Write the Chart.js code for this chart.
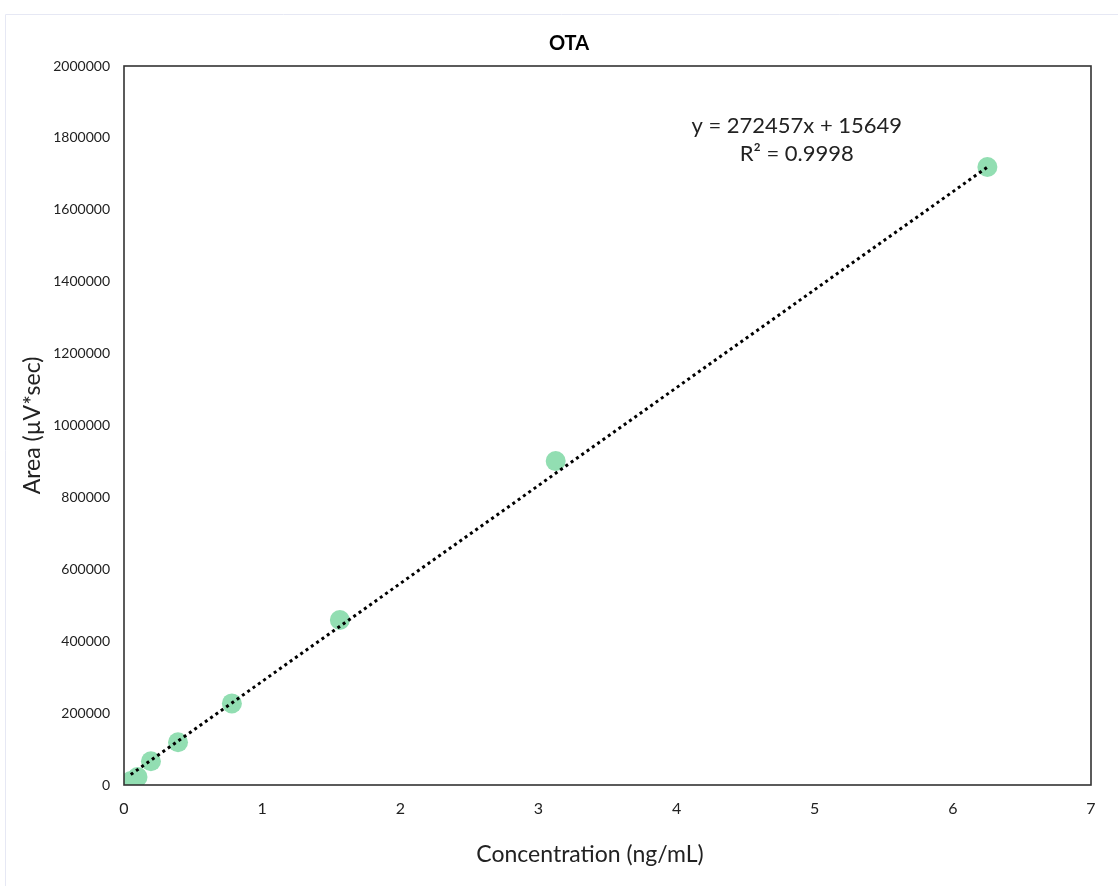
<!DOCTYPE html>
<html>
<head>
<meta charset="utf-8">
<style>
  html, body { margin: 0; padding: 0; background: #ffffff; }
  #wrap { position: relative; width: 1118px; height: 886px; }
</style>
<script src="https://cdn.jsdelivr.net/npm/chart.js@4.4.1/dist/chart.umd.min.js"></script>
</head>
<body>
<div id="wrap"><canvas id="chart" width="1118" height="886"></canvas></div>
<script>
// Calibration standards for OTA
const concentrations = [0.0488, 0.0977, 0.195, 0.391, 0.781, 1.5625, 3.125, 6.25];
const areas = [11000, 22000, 66000, 119000, 227000, 459000, 901000, 1719000];

// Linear fit reported for the calibration
const slope = 272457;
const intercept = 15649;
const rSquared = 0.9998;

const xTicks = [0, 1, 2, 3, 4, 5, 6, 7];
const yTicks = [0, 200000, 400000, 600000, 800000, 1000000, 1200000, 1400000, 1600000, 1800000, 2000000];

const FONT = "Lato, 'DejaVu Sans', sans-serif";

const scatterPoints = concentrations.map((c, i) => ({ x: c, y: areas[i] }));
const xFirst = concentrations[0];
const xLast = concentrations[concentrations.length - 1];
const fitLine = [
  { x: xFirst, y: slope * xFirst + intercept },
  { x: xLast, y: slope * xLast + intercept }
];

const decorations = {
  id: 'decorations',
  beforeDraw(chart) {
    const ctx = chart.ctx;
    ctx.save();
    // faint frame around the chart
    ctx.strokeStyle = '#e6e8f4';
    ctx.lineWidth = 1;
    ctx.beginPath();
    ctx.moveTo(5.5, 886);
    ctx.lineTo(5.5, 14.5);
    ctx.lineTo(1118, 14.5);
    ctx.stroke();
    ctx.restore();
  },
  afterDraw(chart) {
    const ctx = chart.ctx;
    const a = chart.chartArea;
    const xs = chart.scales.x, ys = chart.scales.y;
    ctx.save();
    // plot area box
    ctx.strokeStyle = '#333333';
    ctx.lineWidth = 1.6;
    ctx.strokeRect(a.left, a.top, a.right - a.left, a.bottom - a.top);

    ctx.fillStyle = '#000000';
    ctx.textAlign = 'center';
    ctx.textBaseline = 'middle';
    // title
    ctx.font = "bold 20px " + FONT;
    ctx.fillText('OTA', 569, 44);

    // axis titles
    ctx.fillStyle = '#222222';
    ctx.font = "23px " + FONT;
    ctx.fillText('Concentration (ng/mL)', 590, 855);
    ctx.save();
    ctx.translate(33, (a.top + a.bottom) / 2);
    ctx.rotate(-Math.PI / 2);
    ctx.fillText('Area (\u00b5V*sec)', 0, 0);
    ctx.restore();

    // trendline equation
    ctx.font = "22px " + FONT;
    const ex = xs.getPixelForValue(4.87);
    ctx.fillText('y = ' + slope + 'x + ' + intercept, ex, ys.getPixelForValue(1833000));
    ctx.fillText('R\u00b2 = ' + rSquared.toFixed(4), ex, ys.getPixelForValue(1755000));
    ctx.restore();
  }
};

new Chart(document.getElementById('chart'), {
  type: 'scatter',
  data: {
    datasets: [
      {
        type: 'line',
        label: 'Linear fit',
        data: fitLine,
        borderColor: '#000000',
        borderWidth: 3,
        borderDash: [3, 3.5],
        pointRadius: 0,
        fill: false,
        order: 0
      },
      {
        label: 'OTA',
        data: scatterPoints,
        backgroundColor: '#92deb2',
        borderColor: '#92deb2',
        borderWidth: 0,
        pointRadius: 10,
        pointHoverRadius: 10,
        order: 1
      }
    ]
  },
  options: {
    responsive: false,
    animation: false,
    layout: { padding: { top: 66, right: 27, left: 0, bottom: 0 } },
    plugins: {
      legend: { display: false },
      title: { display: false },
      tooltip: { enabled: false }
    },
    scales: {
      x: {
        type: 'linear',
        min: xTicks[0],
        max: xTicks[xTicks.length - 1],
        afterBuildTicks(scale) { scale.ticks = xTicks.map(v => ({ value: v })); },
        afterFit(scale) { scale.height = 101; },
        grid: { display: false, drawTicks: false },
        border: { display: false },
        ticks: {
          padding: 14,
          color: '#222222',
          font: { family: FONT, size: 16 }
        }
      },
      y: {
        type: 'linear',
        min: yTicks[0],
        max: yTicks[yTicks.length - 1],
        afterBuildTicks(scale) { scale.ticks = yTicks.map(v => ({ value: v })); },
        afterFit(scale) { scale.width = 124; },
        grid: { display: false, drawTicks: false },
        border: { display: false },
        ticks: {
          padding: 14,
          color: '#222222',
          font: { family: FONT, size: 14 },
          callback: v => String(v)
        }
      }
    }
  },
  plugins: [decorations]
});
</script>
</body>
</html>
